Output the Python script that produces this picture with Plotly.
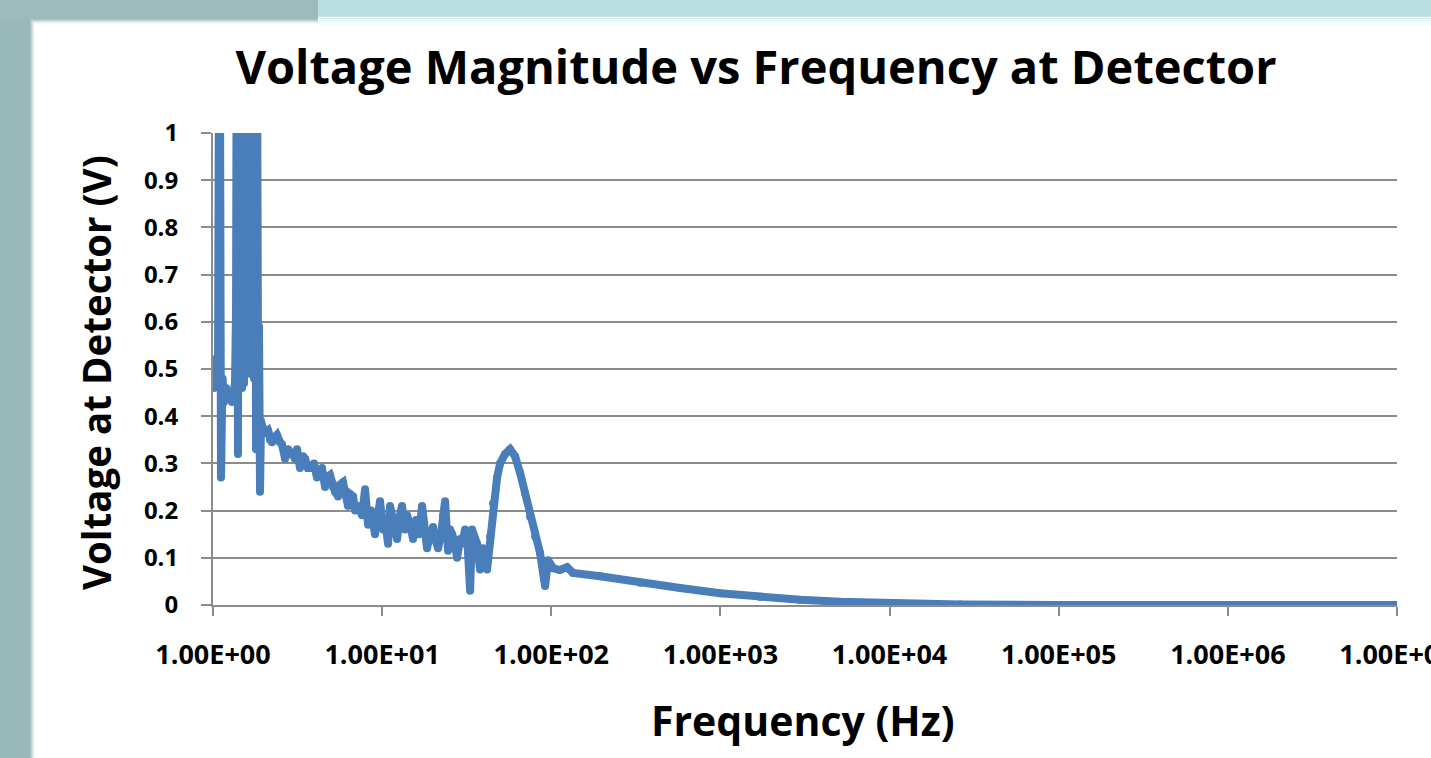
import plotly.graph_objects as go

# ---- data ----
freq_hz = [
    1.000, 1.014, 1.042, 1.070, 1.093, 1.115, 1.138, 1.162, 1.194, 1.227,
    1.260, 1.295, 1.331, 1.349, 1.368, 1.387, 1.405, 1.425, 1.444, 1.464,
    1.484, 1.504, 1.525, 1.546, 1.567, 1.589, 1.611, 1.633, 1.655, 1.678,
    1.701, 1.724, 1.748, 1.772, 1.796, 1.821, 1.846, 1.871, 1.897, 1.922,
    1.949, 2.030, 2.115, 2.173, 2.233, 2.326, 2.390, 2.490, 2.559, 2.666,
    2.777, 2.933, 3.054, 3.139, 3.269, 3.406, 3.500, 3.646, 3.850, 3.957,
    4.121, 4.294, 4.411, 4.596, 4.723, 4.919, 5.125, 5.266, 5.486, 5.636,
    5.872, 6.034, 6.285, 6.460, 6.729, 6.916, 7.203, 7.604, 7.925, 8.255,
    8.600, 9.080, 9.458, 9.718, 10.12, 10.40, 10.84, 11.13, 11.76, 12.25,
    12.76, 13.11, 13.66, 14.04, 14.62, 15.23, 15.87, 16.53, 17.22, 17.69,
    18.43, 19.20, 20.00, 20.55, 21.41, 22.30, 22.92, 23.55, 24.53, 25.21,
    25.91, 26.98, 27.73, 28.88, 29.69, 30.92, 31.77, 33.11, 34.01, 36.41,
    37.93, 39.51, 41.72, 43.46, 45.27, 47.81, 49.80, 53.33, 57.08, 61.08,
    65.38, 69.99, 74.92, 80.21, 85.85, 91.92, 95.74, 102.5, 112.0, 124.0,
    134.6, 194.3, 335.1, 577.9, 995.9, 1717, 2960, 5104, 8800, 15170,
    26160, 1e5, 1e6, 1e7,
]
voltage_v = [
    0.52, 0.46, 0.50, 0.47, 1.50, 0.27, 0.48, 0.43, 0.46, 0.44,
    0.45, 0.43, 0.45, 0.47, 0.62, 1.50, 0.32, 1.60, 0.47, 1.40,
    0.46, 1.80, 0.47, 1.30, 0.49, 1.70, 0.50, 1.50, 0.49, 1.90,
    0.50, 1.40, 0.48, 1.60, 0.33, 1.20, 0.50, 0.59, 0.24, 0.39,
    0.38, 0.365, 0.37, 0.35, 0.345, 0.355, 0.36, 0.345, 0.34, 0.31,
    0.33, 0.32, 0.31, 0.33, 0.29, 0.315, 0.31, 0.29, 0.29, 0.30,
    0.27, 0.285, 0.29, 0.25, 0.27, 0.275, 0.25, 0.24, 0.23, 0.255,
    0.26, 0.235, 0.21, 0.235, 0.23, 0.20, 0.21, 0.19, 0.245, 0.17,
    0.20, 0.15, 0.19, 0.22, 0.16, 0.18, 0.13, 0.21, 0.17, 0.14,
    0.19, 0.21, 0.16, 0.19, 0.17, 0.14, 0.18, 0.15, 0.21, 0.16,
    0.12, 0.15, 0.165, 0.14, 0.12, 0.15, 0.19, 0.22, 0.115, 0.16,
    0.15, 0.13, 0.10, 0.14, 0.13, 0.16, 0.15, 0.03, 0.16, 0.13,
    0.075, 0.12, 0.075, 0.145, 0.215, 0.27, 0.30, 0.32, 0.33, 0.315,
    0.28, 0.237, 0.187, 0.145, 0.11, 0.04, 0.095, 0.078, 0.074, 0.08,
    0.068, 0.061, 0.047, 0.036, 0.025, 0.017, 0.011, 0.007, 0.004, 0.002,
    0.001, 0.0, 0.0, 0.0,
]
x_tick_vals = [1, 10, 100, 1000, 10000, 100000, 1000000, 10000000]
x_tick_text = ["1.00E+00", "1.00E+01", "1.00E+02", "1.00E+03",
               "1.00E+04", "1.00E+05", "1.00E+06", "1.00E+07"]

title_text = "Voltage Magnitude vs Frequency at Detector"
x_title = "Frequency (Hz)"
y_title = "Voltage at Detector (V)"

# ---- layout geometry ----
W, H = 1431, 758
ML, MR, MT, MB = 213, 34, 133, 153
PW, PH = W - ML - MR, H - MT - MB

def px_x(p):
    return (p - ML) / PW

def px_y(p):
    return (H - MB - p) / PH

FONT = "Open Sans"
GRID = "#8c8c8c"
LINE = "#4a7ebb"

fig = go.Figure()
fig.add_trace(go.Scatter(
    x=freq_hz, y=voltage_v, mode="lines+markers",
    line=dict(color=LINE, width=8),
    marker=dict(color=LINE, size=8, line=dict(width=0)),
    showlegend=False, hoverinfo="skip",
))

# slide background frame (teal strips with soft edges)
shapes = []
left_col = "#99b8ba"
top_col_l = "#9dbbbd"
top_col_r = "#b9dfe2"
fade = ["#a9c4c6", "#bdd2d3", "#d3e1e2", "#e8f0f0", "#f5f9f9"]
shapes.append(dict(type="rect", xref="paper", yref="paper", layer="below",
                   x0=px_x(0), x1=px_x(30), y0=px_y(H), y1=px_y(0),
                   fillcolor=left_col, line=dict(width=0)))
for i, c in enumerate(fade):
    shapes.append(dict(type="rect", xref="paper", yref="paper", layer="below",
                       x0=px_x(30 + i), x1=px_x(31 + i), y0=px_y(H), y1=px_y(20 + i),
                       fillcolor=c, line=dict(width=0)))
shapes.append(dict(type="rect", xref="paper", yref="paper", layer="below",
                   x0=px_x(0), x1=px_x(318), y0=px_y(19), y1=px_y(0),
                   fillcolor=top_col_l, line=dict(width=0)))
shapes.append(dict(type="rect", xref="paper", yref="paper", layer="below",
                   x0=px_x(318), x1=px_x(W), y0=px_y(16), y1=px_y(0),
                   fillcolor=top_col_r, line=dict(width=0)))
fade_r = ["#c3e3e6", "#cfe9eb", "#dcefef", "#e9f5f5", "#f4fafa", "#fafdfd"]
for i, c in enumerate(fade_r):
    shapes.append(dict(type="rect", xref="paper", yref="paper", layer="below",
                       x0=px_x(318), x1=px_x(W), y0=px_y(17 + 2 * i), y1=px_y(16 + 2 * i),
                       fillcolor=c, line=dict(width=0)))
for i, c in enumerate(fade):
    shapes.append(dict(type="rect", xref="paper", yref="paper", layer="below",
                       x0=px_x(30 + i), x1=px_x(318), y0=px_y(20 + i), y1=px_y(19 + i),
                       fillcolor=c, line=dict(width=0)))

annotations = [
    dict(text=x_title, xref="paper", yref="paper", x=px_x(803), y=px_y(720),
         xanchor="center", yanchor="middle", showarrow=False,
         font=dict(family=FONT, size=41, color="black", weight="bold")),
    dict(text=y_title, xref="paper", yref="paper", x=px_x(96), y=px_y(373),
         xanchor="center", yanchor="middle", showarrow=False, textangle=-90,
         font=dict(family=FONT, size=38.5, color="black", weight="bold")),
]

fig.update_layout(
    width=W, height=H, autosize=False,
    margin=dict(l=ML, r=MR, t=MT, b=MB, pad=0, autoexpand=False),
    paper_bgcolor="white", plot_bgcolor="rgba(0,0,0,0)",
    title=dict(text=title_text, x=756 / W, y=1 - 68 / H, xref="container", yref="container",
               xanchor="center", yanchor="middle", automargin=False,
               font=dict(family=FONT, size=47, color="black", weight="bold")),
    shapes=shapes,
    annotations=annotations,
    xaxis=dict(type="log", range=[0, 7], tickvals=x_tick_vals, ticktext=x_tick_text,
               automargin=False,
               showgrid=False, showline=True, linecolor=GRID, linewidth=2,
               ticks="outside", ticklen=9, tickwidth=2, tickcolor=GRID,
               tickfont=dict(family=FONT, size=27, color="black", weight="bold"),
               ticklabelstandoff=16, ticklabeloverflow="allow", zeroline=False),
    yaxis=dict(range=[0, 1], dtick=0.1, tick0=0, automargin=False,
               showgrid=True, gridcolor=GRID, gridwidth=2,
               showline=True, linecolor=GRID, linewidth=2,
               ticks="outside", ticklen=10, tickwidth=2, tickcolor=GRID,
               tickfont=dict(family=FONT, size=24, color="black", weight="bold"),
               ticklabelstandoff=18, zeroline=False),
)

fig.write_html("out.html", config={"displayModeBar": False},
               post_script="document.body.style.margin='0';")
